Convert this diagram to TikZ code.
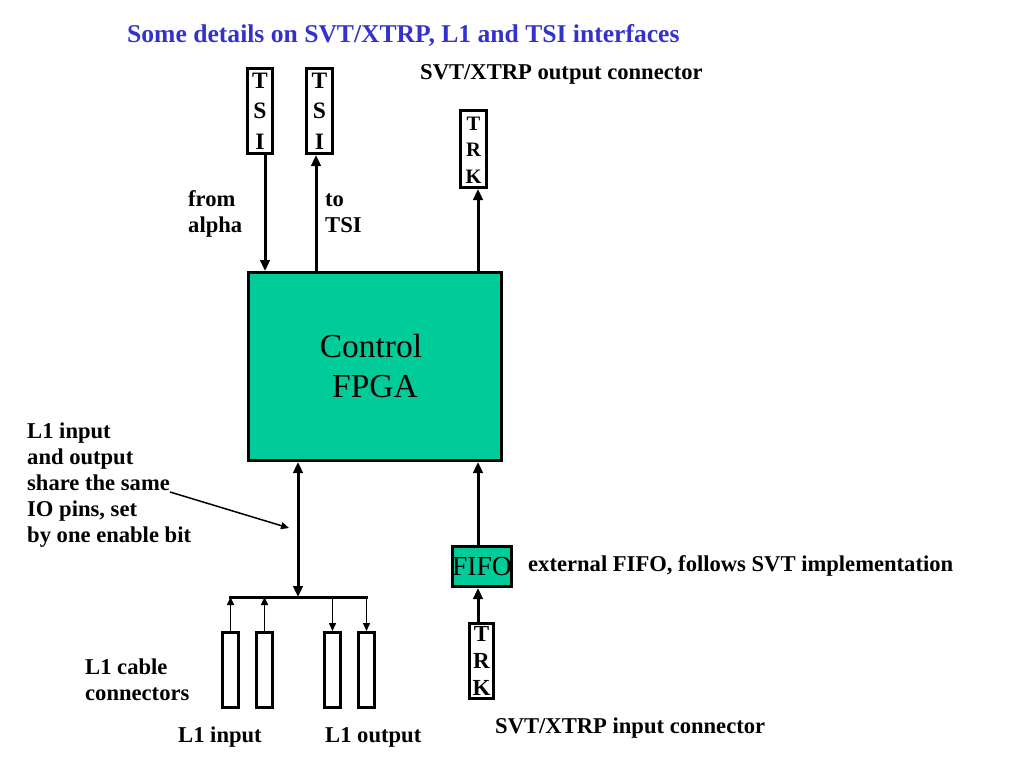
\documentclass[tikz,border=0pt]{standalone}
\usepackage{fontspec}
\setmainfont{Liberation Serif}
\usetikzlibrary{arrows.meta}
\definecolor{fpgagreen}{RGB}{0,204,153}
\definecolor{titleblue}{RGB}{51,51,204}
\begin{document}
\begin{tikzpicture}[x=1pt,y=-1pt,
 lbl/.style={anchor=base west, inner sep=0, font=\fontsize{22.6}{26}\selectfont\bfseries, align=left},
 letterbox/.style={draw, line width=3, inner sep=0},
 letters/.style={anchor=base, inner sep=0, align=center},
 thickarr/.style={line width=3, -{Triangle[length=11pt,width=9.5pt]}},
 dblarr/.style={line width=3, {Triangle[length=11pt,width=9.5pt]}-{Triangle[length=11pt,width=9.5pt]}},
 thinarr/.style={line width=1.5, -{Triangle[length=8pt,width=7pt]}},
 conn/.style={draw, line width=3, minimum width=16, minimum height=75, inner sep=0},
 greenbox/.style={draw, line width=3, fill=fpgagreen, inner sep=0}]
\useasboundingbox (0,0) rectangle (1024,768);

% title
\node[anchor=base west, inner sep=0, font=\fontsize{25.6}{30}\selectfont\bfseries, text=titleblue] (title) at (127,42) {Some details on SVT/XTRP, L1 and TSI interfaces};

% letter boxes
\node[letterbox, minimum width=25, minimum height=85] (tsiA) at (260,111) {};
\node[letterbox, minimum width=26, minimum height=85] (tsiB) at (319.5,111) {};
\node[letterbox, minimum width=26, minimum height=77] (trkA) at (473.5,149) {};
\node[letterbox, minimum width=24, minimum height=75] (trkB) at (481.5,661) {};
\node[letters, font=\fontsize{23.5}{30.5}\selectfont\bfseries] (tsiAt) at (260,149) {T\\S\\I};
\node[letters, font=\fontsize{23.5}{30.5}\selectfont\bfseries] (tsiBt) at (319.5,149) {T\\S\\I};
\node[letters, font=\fontsize{20.5}{26.5}\selectfont\bfseries] (trkAt) at (473.5,183) {T\\R\\K};
\node[letters, font=\fontsize{23}{27}\selectfont\bfseries] (trkBt) at (481.5,695) {T\\R\\K};

% FPGA and FIFO
\node[greenbox, minimum width=253, minimum height=188, align=center, font=\fontsize{33.5}{40}\selectfont] (fpga) at (375,366.5) {Control\kern8pt\\FPGA};
\node[greenbox, minimum width=59, minimum height=40, font=\fontsize{27.5}{30}\selectfont] (fifo) at (482,566.5) {FIFO};

% L1 cable connectors
\node[conn] (c1) at (230.5,670) {};
\node[conn] (c2) at (264.5,670) {};
\node[conn] (c3) at (332.5,670) {};
\node[conn] (c4) at (366.5,670) {};

% helper coordinates
\coordinate (xa) at (265,0);
\coordinate (xb) at (316,0);
\coordinate (xc) at (478,0);
\coordinate (busL) at (229,597);
\coordinate (busM) at (298,597);
\coordinate (busR) at (368,597);
\coordinate (ptrA) at (170,492);
\coordinate (ptrB) at (289,528);

% connectors
\draw[thickarr] (tsiA.south -| xa) -- (fpga.north -| xa);
\draw[thickarr] (fpga.north -| xb) -- (tsiB.south -| xb);
\draw[thickarr] (fpga.north -| xc) -- (trkA.south -| xc);
\draw[thickarr] (fifo.north -| xc) -- (fpga.south -| xc);
\draw[thickarr] (trkB.north -| xc) -- (fifo.south -| xc);
\draw[dblarr] (fpga.south -| busM) -- (busM);
\draw[line width=3] (busL) -- (busR);
\draw[thinarr] (c1.north) -- (c1.north |- busM);
\draw[thinarr] (c2.north) -- (c2.north |- busM);
\draw[thinarr] (c3.north |- busM) -- (c3.north);
\draw[thinarr] (c4.north |- busM) -- (c4.north);
\draw[thinarr] (ptrA) -- (ptrB);

% labels (multi-line: position is the baseline of the last line)
\node[lbl] (outc) at (420,79) {SVT/XTRP output connector};
\node[lbl] (from) at (188,232) {from\\alpha};
\node[lbl] (tot) at (325,232) {to\\TSI};
\node[lbl] (share) at (27,542) {L1 input\\and output\\share the same\\IO pins, set\\by one enable bit};
\node[lbl] (ext) at (528,571) {external FIFO, follows SVT implementation};
\node[lbl] (cable) at (85,700) {L1 cable\\connectors};
\node[lbl] (l1in) at (178,742) {L1 input};
\node[lbl] (l1out) at (325,742) {L1 output};
\node[lbl] (inc) at (495,733) {SVT/XTRP input connector};
\end{tikzpicture}
\end{document}
